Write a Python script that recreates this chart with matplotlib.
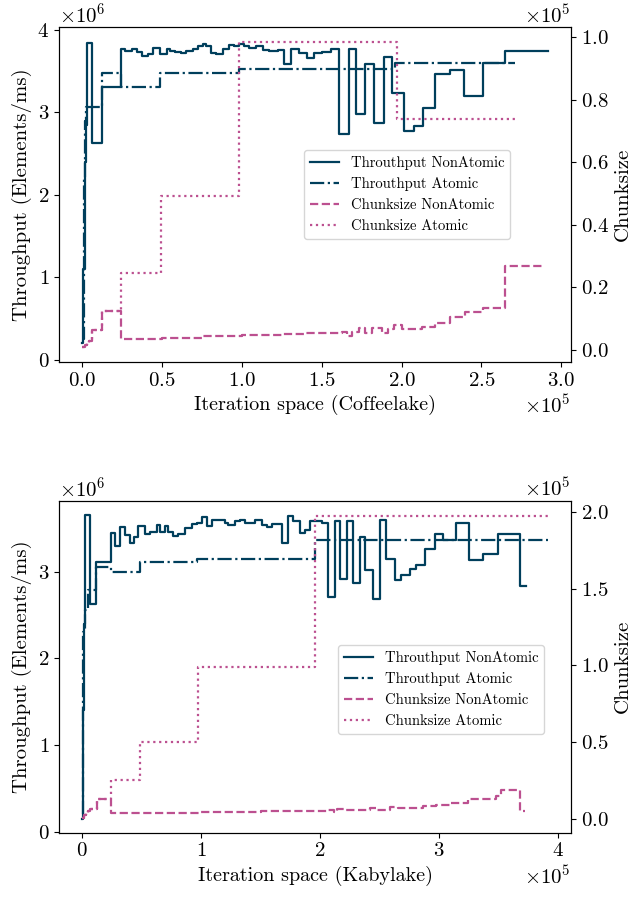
import numpy as np
import matplotlib
matplotlib.use("Agg")
import matplotlib.pyplot as plt

plt.rcParams['font.family'] = 'cmr10'
plt.rcParams['mathtext.fontset'] = 'cm'
plt.rcParams['axes.formatter.use_mathtext'] = True
plt.rcParams['axes.unicode_minus'] = False

c_thr = '#003f5c'
c_chunk = '#bc5090'

# Coffeelake
cl_nat_x = [0, 700, 1400, 2100, 2900, 6000, 12300, 24300, 26800, 31000, 34100, 37200, 41300,
            44400, 48600, 52800, 54800, 58000, 62100, 65200, 69400, 72500, 75600, 77700,
            80800, 83900, 88000, 92200, 95300, 98400, 101600, 104700, 108800, 113000, 117100,
            122300, 126500, 130700, 135800, 141000, 145200, 150400, 155600, 160800, 167000,
            171200, 177400, 182600, 188800, 194000, 201300, 207500, 213700, 221000, 230400,
            239300, 251100, 264600, 291600]
cl_nat_thr = [0.20, 1.10, 2.40, 2.85, 3.84, 2.63, 3.31, 3.77, 3.74, 3.77, 3.73, 3.68, 3.71,
              3.78, 3.71, 3.77, 3.74, 3.73, 3.72, 3.74, 3.77, 3.81, 3.83, 3.80,
              3.72, 3.71, 3.77, 3.82, 3.80, 3.83, 3.80, 3.78, 3.80, 3.76, 3.74,
              3.76, 3.59, 3.77, 3.72, 3.66, 3.72, 3.73, 3.77, 2.74, 3.77,
              2.98, 3.59, 2.87, 3.67, 3.23, 2.77, 2.84, 3.05, 3.47, 3.51,
              3.20, 3.60, 3.74, 3.74]
cl_at_x = [0, 800, 1600, 2500, 12300, 24300, 48600, 98400, 196000, 271000]
cl_at_thr = [0.25, 2.20, 2.90, 3.07, 3.48, 3.31, 3.48, 3.53, 3.60, 3.60]

cl_nat_cx = [0, 1500, 3000, 4500, 6000, 12300, 24100, 50000, 75000, 100000, 125000, 140000,
             162800, 165900, 169000, 173200, 177400, 181500, 187700, 191500, 195000, 200200,
             212700, 221000, 230400, 239700, 251100, 264600, 288500]
cl_nat_chunk = [1000, 1700, 2300, 3000, 6400, 12500, 3600, 3900, 4300, 4700, 5000, 5300,
                5800, 4500, 5800, 6900, 5300, 6900, 5300, 6600, 8000, 6600,
                7400, 8700, 10400, 12000, 13500, 26800, 26800]
cl_at_cx = [0, 1500, 3000, 4500, 6000, 12300, 24100, 49000, 98400, 197000, 271000]
cl_at_chunk = [1000, 1700, 2300, 3000, 6400, 12500, 24600, 49200, 98300, 73800, 73800]

# Kabylake
kl_nat_x = [0, 700, 1400, 2000, 2500, 6700, 11800, 24100, 27700, 31400, 36100, 39800, 43100,
            47300, 52900, 57100, 62700, 65500, 69700, 72500, 76700, 80900, 86500, 92200,
            96400, 100600, 104800, 109000, 120200, 122900, 128600, 132800, 137000, 141200,
            145400, 151000, 155200, 159400, 167800, 173400, 177600, 183200, 187400, 191600,
            201400, 207000, 212600, 216800, 222400, 228000, 233600, 237800, 244800, 250400,
            256000, 263000, 268600, 275600, 281300, 288300, 296600, 304000, 314800, 325500,
            337200, 349800, 368100, 373700]
kl_nat_thr = [0.15, 1.40, 2.40, 2.60, 3.65, 2.63, 3.11, 3.45, 3.30, 3.52, 3.42, 3.33, 3.40,
              3.53, 3.44, 3.46, 3.54, 3.46, 3.53, 3.46, 3.41, 3.44, 3.50, 3.55,
              3.56, 3.63, 3.53, 3.60, 3.56, 3.54, 3.59, 3.60, 3.56, 3.56,
              3.60, 3.54, 3.52, 3.55, 3.33, 3.64, 3.58, 3.45, 3.48, 3.58,
              3.56, 2.71, 3.58, 2.92, 3.58, 2.87, 3.40, 3.02, 2.68, 3.60,
              3.15, 2.90, 2.96, 3.03, 3.08, 3.26, 3.43, 3.37, 3.56, 3.14,
              3.21, 3.43, 2.83, 2.83]
kl_at_x = [0, 1000, 2500, 5000, 11800, 24100, 48700, 96400, 195800, 391800]
kl_at_thr = [0.20, 2.30, 2.56, 2.79, 3.06, 3.00, 3.11, 3.15, 3.37, 3.37]

kl_nat_cx = [0, 1500, 3000, 4500, 6700, 12000, 24100, 60000, 100000, 150000, 205600, 212000,
             214000, 220000, 242000, 247600, 258800, 265800, 286800, 298100, 309200, 324600,
             348500, 352700, 368100, 372300]
kl_nat_chunk = [1100, 2500, 3800, 5200, 6500, 13400, 3900, 4200, 4600, 5200, 6000, 4800,
                6500, 6000, 7300, 6000, 8000, 7300, 8600, 9500, 10800, 12900,
                15100, 19000, 5400, 5400]
kl_at_cx = [0, 1500, 3000, 4500, 6700, 12000, 24100, 48700, 97800, 195800, 391800]
kl_at_chunk = [1100, 2500, 3800, 5200, 6500, 13400, 25400, 50000, 99000, 197300, 197300]


def draw(ax, nat_x, nat_thr, at_x, at_thr, nat_cx, nat_chunk, at_cx, at_chunk, name,
         leg_pos, ylim):
    ax.plot(nat_x, np.array(nat_thr) * 1e6, drawstyle='steps-post', color=c_thr, lw=1.6,
            ls='-', label='Throuthput NonAtomic')
    ax.plot(at_x, np.array(at_thr) * 1e6, drawstyle='steps-post', color=c_thr, lw=1.6,
            ls='-.', label='Throuthput Atomic')
    ax.set_ylim(*ylim)
    ax.set_xlabel(f'Iteration space ({name})', fontsize=14.5)
    ax.set_ylabel('Throughput (Elements/ms)', fontsize=15)
    ax.ticklabel_format(axis='both', style='sci', scilimits=(0, 0))
    ax2 = ax.twinx()
    ax2.plot(nat_cx, nat_chunk, drawstyle='steps-post', color=c_chunk, lw=1.6,
             ls='--', label='Chunksize NonAtomic')
    ax2.plot(at_cx, at_chunk, drawstyle='steps-post', color=c_chunk, lw=1.6,
             ls=':', label='Chunksize Atomic')
    ax2.set_ylabel('Chunksize', fontsize=15)
    ax2.ticklabel_format(axis='y', style='sci', scilimits=(0, 0))
    for a in (ax, ax2):
        a.tick_params(labelsize=15)
        a.yaxis.get_offset_text().set_fontsize(15)
    ax.xaxis.get_offset_text().set_fontsize(15)
    h1, l1 = ax.get_legend_handles_labels()
    h2, l2 = ax2.get_legend_handles_labels()
    ax2.legend(h1 + h2, l1 + l2, loc='upper left', bbox_to_anchor=leg_pos,
               borderaxespad=0, fontsize=10.5)


fig = plt.figure(figsize=(6.34, 8.97), dpi=100)
ax_top = fig.add_axes([0.0931, 0.5964, 0.8076, 0.3735])
ax_bot = fig.add_axes([0.0931, 0.0717, 0.8076, 0.3701])

draw(ax_top, cl_nat_x, cl_nat_thr, cl_at_x, cl_at_thr, cl_nat_cx, cl_nat_chunk,
     cl_at_cx, cl_at_chunk, 'Coffeelake', (0.4785, 0.633), (-0.025e6, 4.035e6))
draw(ax_bot, kl_nat_x, kl_nat_thr, kl_at_x, kl_at_thr, kl_nat_cx, kl_nat_chunk,
     kl_at_cx, kl_at_chunk, 'Kabylake', (0.545, 0.565), (-0.012e6, 3.82e6))

fig.savefig('out.png', dpi=100)
